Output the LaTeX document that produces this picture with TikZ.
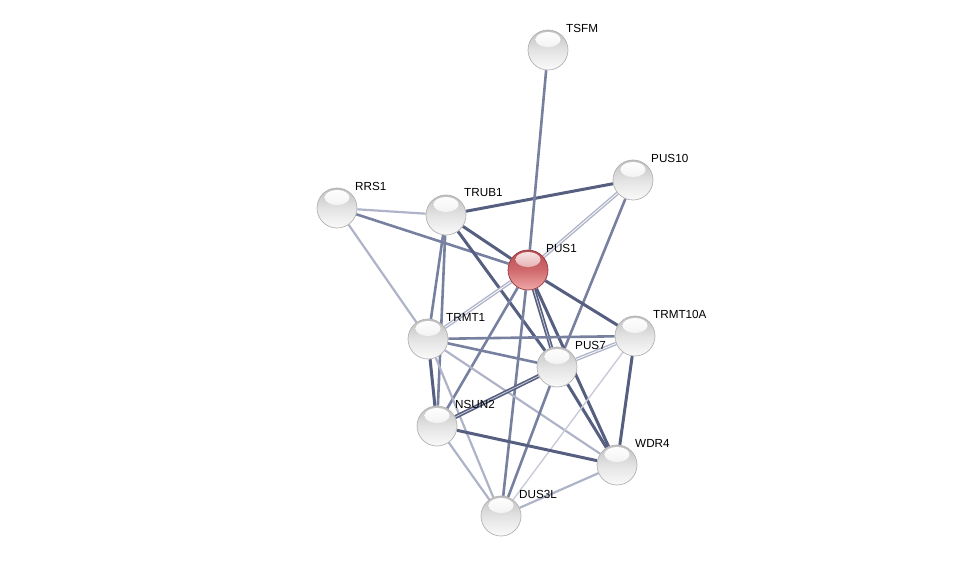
\documentclass[tikz,border=0pt]{standalone}
\usepackage{fontspec}
\setmainfont{Liberation Sans}
\usetikzlibrary{backgrounds}
\definecolor{edark}{HTML}{565F80}
\definecolor{emid}{HTML}{7880A0}
\definecolor{elight}{HTML}{AEB3C8}
\definecolor{evlight}{HTML}{C8CCDA}
\definecolor{rtop}{HTML}{B84A50}
\definecolor{rmid}{HTML}{D06A6E}
\definecolor{rbot}{HTML}{F0A8A8}
\tikzset{
  prot/.style={circle, minimum size=40pt, inner sep=0pt, draw=gray!60, line width=0.7pt,
    top color=gray!50, bottom color=gray!4, middle color=gray!22,
    path picture={\shade[top color=white, bottom color=gray!22]
      ([yshift=10.5pt]path picture bounding box.center) ellipse (12.5pt and 7.5pt);}},
  query/.style={circle, minimum size=40pt, inner sep=0pt, draw=rtop!80!black, line width=0.7pt,
    top color=rtop, bottom color=rbot, middle color=rmid,
    path picture={\shade[top color=white!85!rmid, bottom color=rmid]
      ([yshift=10.5pt]path picture bounding box.center) ellipse (12.5pt and 7.5pt);}},
  lbl/.style={anchor=west, inner sep=0pt, font=\fontsize{11.7}{12}\selectfont},
  dk/.style={draw=edark, line width=3pt},
  md/.style={draw=emid, line width=2.6pt},
  lt/.style={draw=elight, line width=2.2pt},
  vlt/.style={draw=evlight, line width=1.4pt},
  dbl/.style={draw=edark, line width=1.6pt, double=white!70!edark, double distance=0.8pt},
  dbllt/.style={draw=elight, line width=1.4pt, double=white, double distance=0.8pt},
}
\begin{document}
\begin{tikzpicture}[x=1pt,y=-1pt]
\useasboundingbox (0,0) rectangle (976,561);
\node[prot] (TSFM) at (548,50) {};
\node[prot] (PUS10) at (633,180) {};
\node[prot] (RRS1) at (337,208) {};
\node[prot] (TRUB1) at (446,215) {};
\node[query] (PUS1) at (528,270) {};
\node[prot] (TRMT1) at (428,339) {};
\node[prot] (TRMT10A) at (635,336) {};
\node[prot] (PUS7) at (557,367) {};
\node[prot] (NSUN2) at (437,426) {};
\node[prot] (WDR4) at (617,465) {};
\node[prot] (DUS3L) at (501,516) {};
\foreach \n/\t in {TSFM/TSFM,PUS10/PUS10,RRS1/RRS1,TRUB1/TRUB1,PUS1/PUS1,TRMT1/TRMT1,TRMT10A/TRMT10A,PUS7/PUS7,NSUN2/NSUN2,WDR4/WDR4,DUS3L/DUS3L}
  \node[lbl] (\n-l) at ([shift={(18,-22)}]\n.center) {\t};
\begin{pgfonlayer}{background}
\draw[lt] (RRS1) -- (TRUB1);
\draw[lt] (RRS1) -- (TRMT1);
\draw[md] (RRS1) -- (PUS1);
\draw[dk] (TRUB1) -- (PUS10);
\draw[dk] (TRUB1) -- (PUS1);
\draw[dk] (TRUB1) -- (PUS7);
\draw[md] (TRUB1) -- (TRMT1);
\draw[md] (TRUB1) -- (NSUN2);
\draw[md] (TSFM) -- (PUS1);
\draw[dbllt] (PUS1) -- (PUS10);
\draw[md] (PUS10) -- (PUS7);
\draw[dbllt] (TRMT1) -- (PUS1);
\draw[dk] (PUS1) -- (TRMT10A);
\draw[dbl] (PUS1) -- (PUS7);
\draw[dk] (PUS1) -- (WDR4);
\draw[md] (PUS1) -- (NSUN2);
\draw[md] (PUS1) -- (DUS3L);
\draw[md] (TRMT1) -- (TRMT10A);
\draw[md] (TRMT1) -- (PUS7);
\draw[lt] (TRMT1) -- (WDR4);
\draw[dk] (TRMT1) -- (NSUN2);
\draw[lt] (TRMT1) -- (DUS3L);
\draw[dbllt] (PUS7) -- (TRMT10A);
\draw[dbl] (PUS7) -- (NSUN2);
\draw[dk] (PUS7) -- (WDR4);
\draw[md] (PUS7) -- (DUS3L);
\draw[dk] (TRMT10A) -- (WDR4);
\draw[vlt] (TRMT10A) -- (DUS3L);
\draw[dk] (NSUN2) -- (WDR4);
\draw[lt] (NSUN2) -- (DUS3L);
\draw[lt] (WDR4) -- (DUS3L);
\end{pgfonlayer}
\end{tikzpicture}
\end{document}
